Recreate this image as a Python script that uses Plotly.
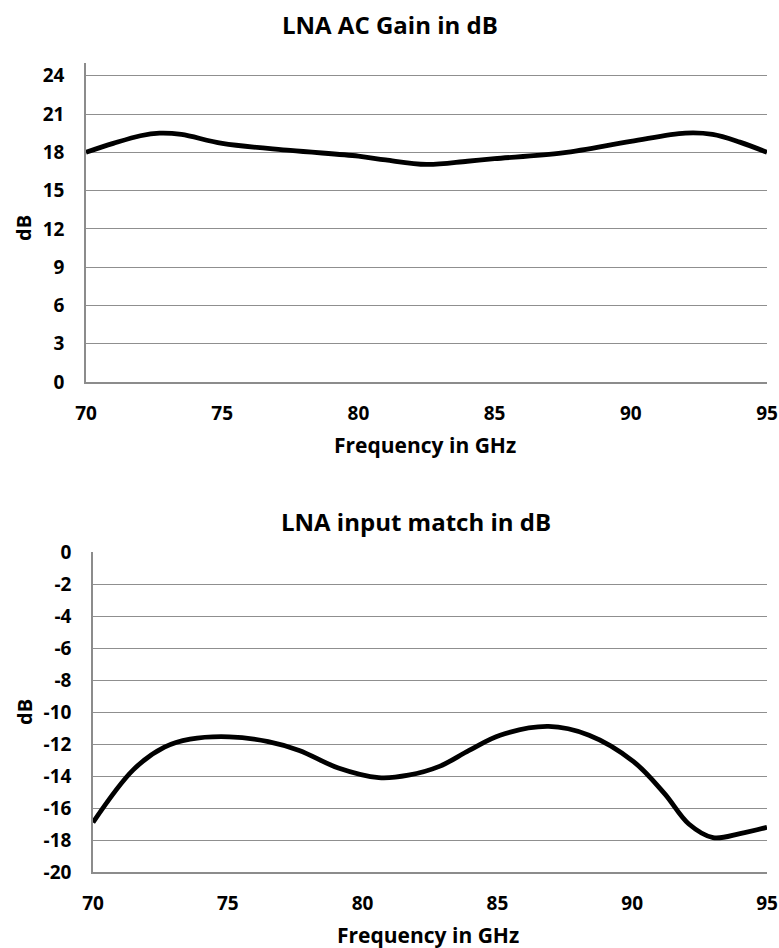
import plotly.graph_objects as go

# ---- data ----
gain_freq = [70, 71, 72, 72.7, 73.5, 75, 77.5, 80, 81, 82.5, 84, 85, 87.5, 90, 92, 93, 94, 95]
gain_db = [18.0, 18.7, 19.3, 19.5, 19.4, 18.7, 18.15, 17.7, 17.4, 17.05, 17.3, 17.5, 17.95, 18.85, 19.5, 19.4, 18.8, 18.0]

match_freq = [70, 71.5, 72.65, 73.6, 75.05, 76.5, 77.65, 79.1, 80.6, 81.7, 82.85, 83.95, 85.1, 86.9, 88.4, 90.05, 91.2, 92.1, 93.0, 94.0, 95]
match_db = [-16.9, -13.6, -12.2, -11.7, -11.55, -11.85, -12.4, -13.5, -14.1, -13.95, -13.4, -12.4, -11.45, -10.9, -11.45, -13.1, -15.1, -17.0, -17.85, -17.6, -17.2]

x_ticks = [70, 75, 80, 85, 90, 95]
gain_ticks = [0, 3, 6, 9, 12, 15, 18, 21, 24]
match_ticks = [0, -2, -4, -6, -8, -10, -12, -14, -16, -18, -20]
match_ticktext = ["0", "-2", "-4", "-6", "-8", "-10", "-12", "-14", "-16", "-18", "-20"]

W, H = 779, 948
FONT = "Open Sans"

fig = go.Figure()
fig.add_trace(go.Scatter(x=gain_freq, y=gain_db, mode="lines",
                         line=dict(color="black", width=4.8, shape="spline", smoothing=1.0),
                         xaxis="x", yaxis="y", showlegend=False, hoverinfo="skip"))
fig.add_trace(go.Scatter(x=match_freq, y=match_db, mode="lines",
                         line=dict(color="black", width=4.8, shape="spline", smoothing=1.0),
                         xaxis="x2", yaxis="y2", showlegend=False, hoverinfo="skip"))


def px(xp):
    return xp / W


def py(yp):
    return 1 - yp / H


tickfont = dict(family=FONT, size=19, color="black", weight="bold")
axis_common = dict(showgrid=False, zeroline=False, linecolor="#8c8c8c", linewidth=1.5, showline=True,
                   ticks="", tickfont=tickfont, fixedrange=True, ticklabelstandoff=13, automargin=False)
yaxis_common = dict(showgrid=True, gridcolor="#8f8f8f", gridwidth=1.2, zeroline=False, showline=True,
                    linecolor="#8c8c8c", linewidth=1.5, ticks="", tickfont=tickfont,
                    fixedrange=True, ticklabelstandoff=16, automargin=False)

fig.update_layout(
    template="none",
    width=W, height=H, margin=dict(l=0, r=0, t=0, b=0, pad=0), autosize=False,
    paper_bgcolor="white", plot_bgcolor="white",
    xaxis=dict(domain=[px(86), px(767)], range=[70, 95], tickvals=x_ticks, anchor="y", **axis_common),
    yaxis=dict(domain=[py(382), py(63)], range=[0, 25], tickvals=gain_ticks, anchor="x", **yaxis_common),
    xaxis2=dict(domain=[px(93), px(767)], range=[70, 95], tickvals=x_ticks, anchor="y2", **axis_common),
    yaxis2=dict(domain=[py(872), py(552)], range=[-20, 0], tickvals=match_ticks, ticktext=match_ticktext,
                anchor="x2", **yaxis_common),
)


def label(text, x, y, size, angle=0):
    fig.add_annotation(text=text, x=px(x), y=py(y), xref="paper", yref="paper", showarrow=False,
                       textangle=angle, font=dict(family=FONT, size=size, color="black", weight="bold"),
                       xanchor="center", yanchor="middle")


label("LNA AC Gain in dB", 390, 25, 24)
label("Frequency in GHz", 425, 445, 21)
label("dB", 24, 228, 20, -90)
label("LNA input match in dB", 416, 521, 24)
label("Frequency in GHz", 428, 935, 21)
label("dB", 24, 712, 20, -90)

fig.write_html("out.html")
